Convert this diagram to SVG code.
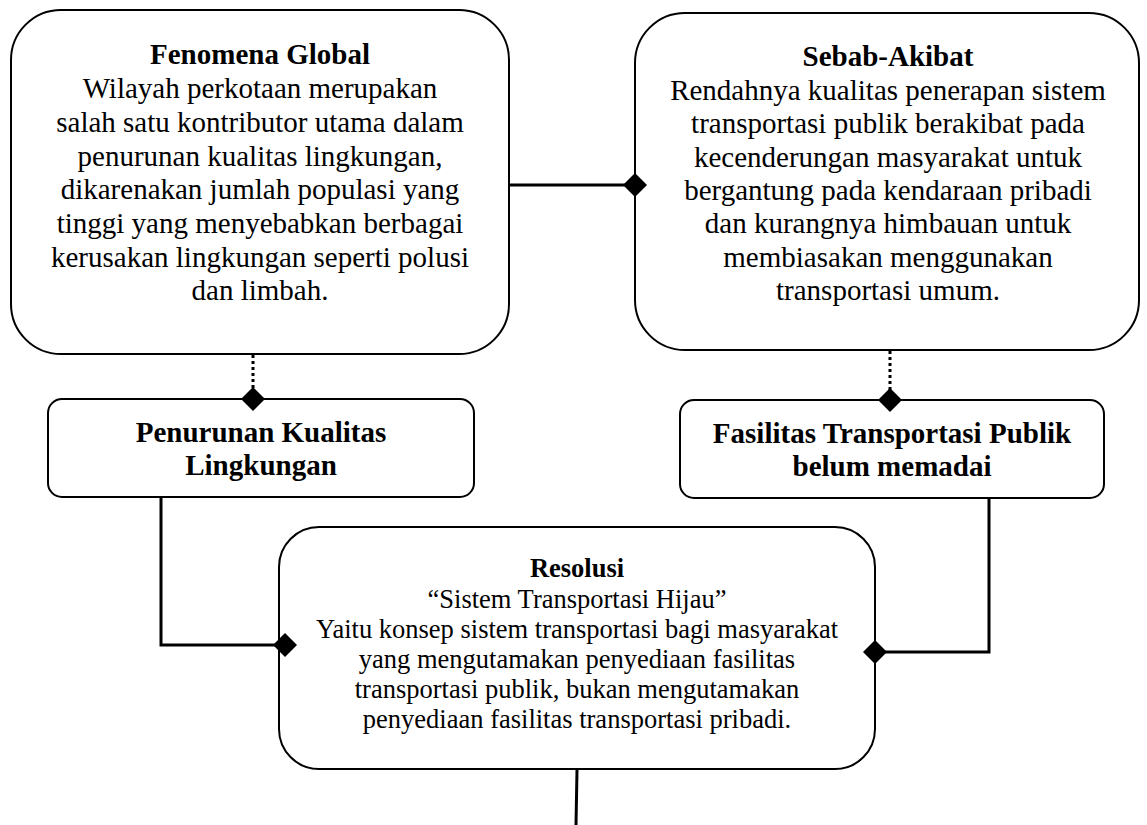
<svg xmlns="http://www.w3.org/2000/svg" width="1147" height="825" viewBox="0 0 1147 825">
<style>
.box{fill:#fff;stroke:#000;stroke-width:2}
.t{font-family:"Liberation Serif","Times New Roman",serif;fill:#000;text-anchor:middle}
.b{font-weight:bold}
.f29{font-size:29px}
.f26{font-size:26.5px}
.ln{fill:none;stroke:#000;stroke-width:3}
.dot{fill:none;stroke:#000;stroke-width:3;stroke-dasharray:3 3}
.dia{fill:#000}
</style>
<defs>
<path id="dm" d="M0,-12 L12,0 L0,12 L-12,0 Z"/>
</defs>
<g id="connectors">
<line class="ln" x1="509" y1="185" x2="630" y2="185"/>
<line class="dot" x1="253" y1="355" x2="253" y2="390"/>
<line class="dot" x1="890" y1="351" x2="890" y2="390"/>
<polyline class="ln" points="161,498 161,645 280,645"/>
<polyline class="ln" points="989,498 989,652 880,652"/>
<line class="ln" x1="577" y1="770" x2="576" y2="825"/>
</g>
<g id="fenomena-global">
<rect class="box" x="11" y="10" width="498" height="344" rx="50" ry="50"/>
<text class="t f29 b" x="260" y="64">Fenomena Global</text>
<text class="t f29" x="260" y="98">Wilayah perkotaan merupakan</text>
<text class="t f29" x="260" y="132">salah satu kontributor utama dalam</text>
<text class="t f29" x="260" y="166">penurunan kualitas lingkungan,</text>
<text class="t f29" x="260" y="199">dikarenakan jumlah populasi yang</text>
<text class="t f29" x="260" y="233">tinggi yang menyebabkan berbagai</text>
<text class="t f29" x="260" y="267">kerusakan lingkungan seperti polusi</text>
<text class="t f29" x="260" y="300">dan limbah.</text>
</g>
<g id="sebab-akibat">
<rect class="box" x="635" y="13" width="504" height="337" rx="50" ry="50"/>
<text class="t f29 b" x="888" y="66">Sebab-Akibat</text>
<text class="t f29" x="888" y="100">Rendahnya kualitas penerapan sistem</text>
<text class="t f29" x="888" y="133">transportasi publik berakibat pada</text>
<text class="t f29" x="888" y="167">kecenderungan masyarakat untuk</text>
<text class="t f29" x="888" y="200">bergantung pada kendaraan pribadi</text>
<text class="t f29" x="888" y="233">dan kurangnya himbauan untuk</text>
<text class="t f29" x="888" y="267">membiasakan menggunakan</text>
<text class="t f29" x="888" y="300">transportasi umum.</text>
</g>
<g id="penurunan-kualitas">
<rect class="box" x="48" y="399" width="426" height="98" rx="14" ry="14"/>
<text class="t f29 b" x="261" y="442">Penurunan Kualitas</text>
<text class="t f29 b" x="261" y="475">Lingkungan</text>
</g>
<g id="fasilitas-transportasi">
<rect class="box" x="680" y="400" width="424" height="98" rx="14" ry="14"/>
<text class="t f29 b" x="892" y="443">Fasilitas Transportasi Publik</text>
<text class="t f29 b" x="892" y="476">belum memadai</text>
</g>
<g id="resolusi">
<rect class="box" x="279" y="527" width="596" height="242" rx="40" ry="40"/>
<text class="t f26 b" x="577" y="577">Resolusi</text>
<text class="t f26" x="577" y="608">“Sistem Transportasi Hijau”</text>
<text class="t f26" x="577" y="638">Yaitu konsep sistem transportasi bagi masyarakat</text>
<text class="t f26" x="577" y="668">yang mengutamakan penyediaan fasilitas</text>
<text class="t f26" x="577" y="698">transportasi publik, bukan mengutamakan</text>
<text class="t f26" x="577" y="728">penyediaan fasilitas transportasi pribadi.</text>
</g>
<g id="markers">
<use href="#dm" class="dia" x="635" y="185"/>
<use href="#dm" class="dia" x="253" y="399"/>
<use href="#dm" class="dia" x="890" y="400"/>
<use href="#dm" class="dia" x="285" y="645"/>
<use href="#dm" class="dia" x="875" y="652"/>
</g>
</svg>
